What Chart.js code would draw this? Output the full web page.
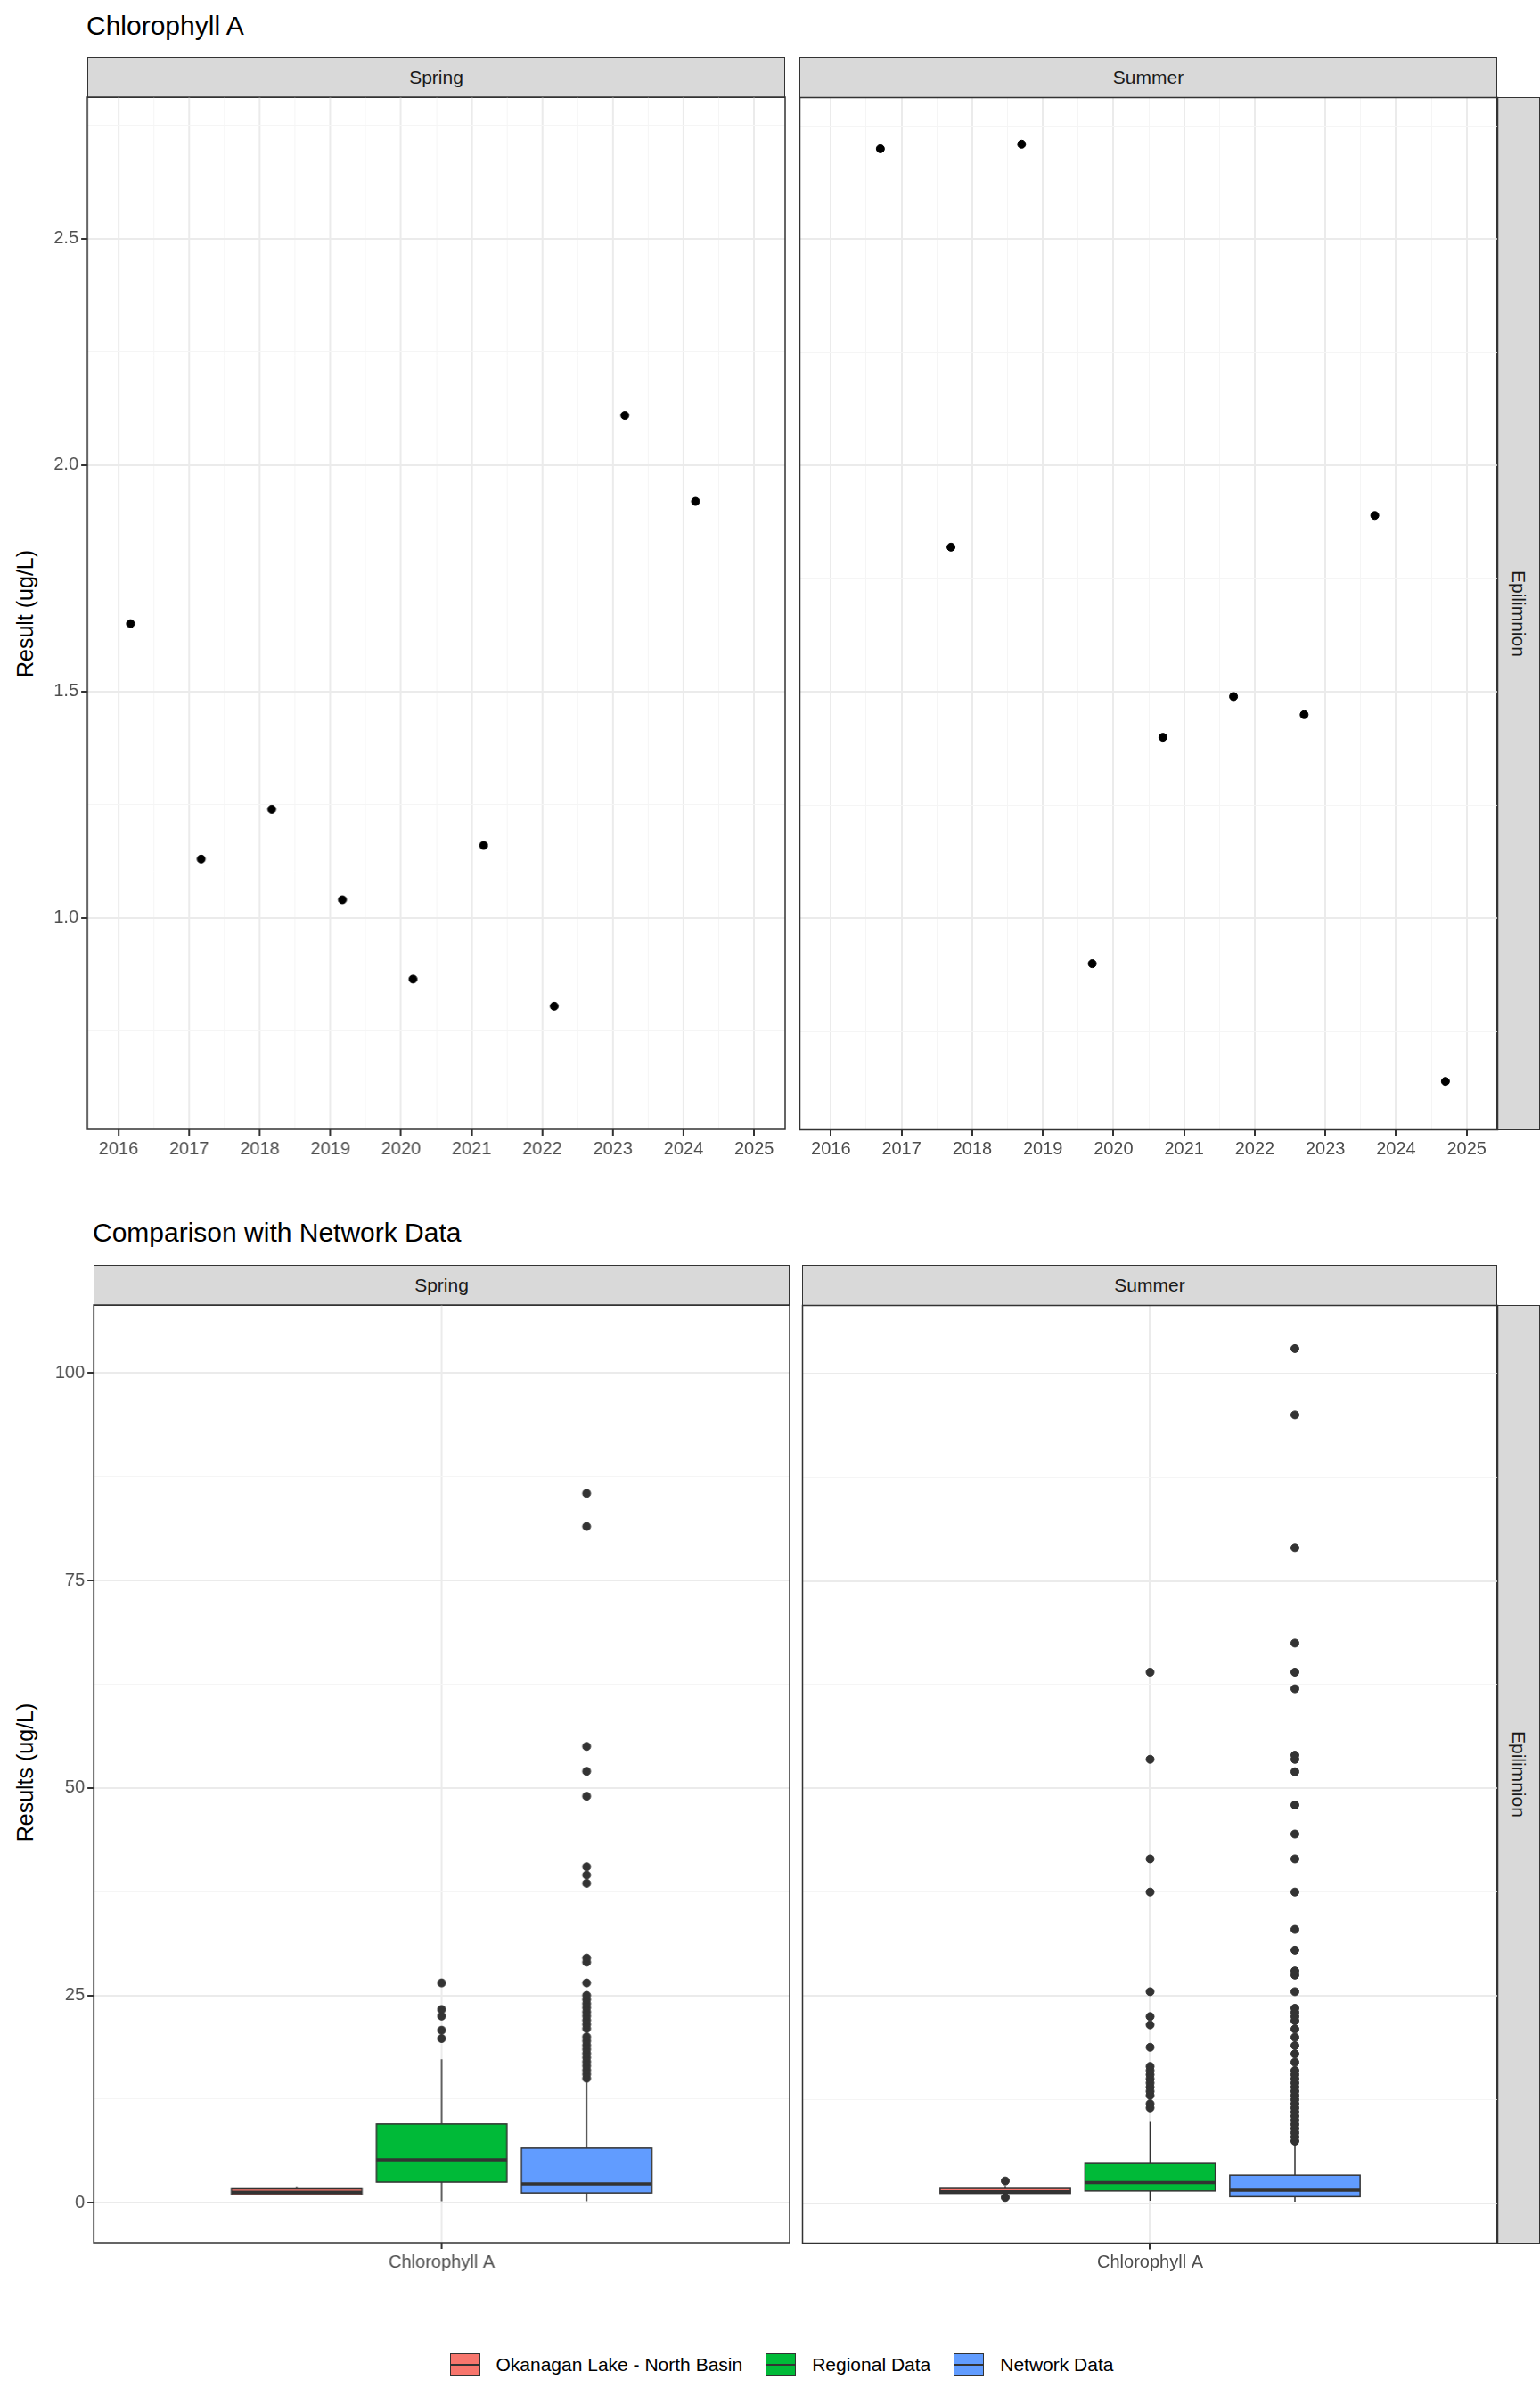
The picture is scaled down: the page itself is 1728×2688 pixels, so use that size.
<!DOCTYPE html>
<html><head><meta charset="utf-8">
<script src="https://cdn.jsdelivr.net/npm/chart.js@4"></script>
<style>
body{margin:0;width:1728px;height:2688px;background:#fff;font-family:"Liberation Sans",Arial,sans-serif;position:relative;overflow:hidden}
.abs{position:absolute}
.strip{position:absolute;background:#d9d9d9;border:1.5px solid #333;box-sizing:border-box;display:flex;align-items:center;justify-content:center;font-size:21px;color:#1a1a1a}
.vstrip{writing-mode:vertical-rl}
.title{position:absolute;font-size:30px;color:#000}
.ytitle{position:absolute;font-size:25px;color:#000;transform:rotate(-90deg);transform-origin:center;white-space:nowrap}
.leg{position:absolute;top:2640px;left:0;width:1728px;display:flex;justify-content:center;align-items:center;font-size:21px;color:#000}
.key{width:34px;height:26px;box-sizing:border-box;border:1.5px solid #333;position:relative;margin-right:18px;margin-left:26px}
.key:after{content:"";position:absolute;left:0;right:0;top:11px;height:2px;background:#333}
</style></head><body>
<div class="title" style="left:97px;top:12px">Chlorophyll A</div>
<div class="strip" style="left:98px;top:64px;width:783px;height:46px">Spring</div>
<div class="strip" style="left:897px;top:64px;width:783px;height:46px">Summer</div>
<div class="strip vstrip" style="left:1679px;top:109px;width:49px;height:1159px">Epilimnion</div>
<div class="ytitle" style="left:-52px;top:674px;width:160px;text-align:center">Result (ug/L)</div>

<div class="title" style="left:104px;top:1366px">Comparison with Network Data</div>
<div class="strip" style="left:105px;top:1419px;width:781px;height:46px">Spring</div>
<div class="strip" style="left:900px;top:1419px;width:780px;height:46px">Summer</div>
<div class="strip vstrip" style="left:1679px;top:1464px;width:49px;height:1053px">Epilimnion</div>
<div class="ytitle" style="left:-62px;top:1974px;width:180px;text-align:center">Results (ug/L)</div>

<div class="leg">
<div class="key" style="background:#F8766D"></div><span>Okanagan Lake - North Basin</span>
<div class="key" style="background:#00BA38"></div><span>Regional Data</span>
<div class="key" style="background:#619CFF"></div><span>Network Data</span>
</div>

<div class="abs" id="d1" style="left:0;top:109px;width:882px;height:1200px"><canvas id="c1"></canvas></div>
<div class="abs" id="d2" style="left:897px;top:109px;width:784px;height:1200px"><canvas id="c2"></canvas></div>
<div class="abs" id="d3" style="left:0;top:1464px;width:887px;height:1110px"><canvas id="c3"></canvas></div>
<div class="abs" id="d4" style="left:900px;top:1464px;width:781px;height:1110px"><canvas id="c4"></canvas></div>

<script>
// ---- data ----
const springYears = [2016.17,2017.17,2018.17,2019.17,2020.17,2021.17,2022.17,2023.17,2024.17];
const springChl   = [1.65,1.13,1.24,1.04,0.865,1.16,0.805,2.11,1.92];
const summerYears = [2016.7,2017.7,2018.7,2019.7,2020.7,2021.7,2022.7,2023.7,2024.7];
const summerChl   = [2.70,1.82,2.71,0.90,1.40,1.49,1.45,1.89,0.64];
const yearTicks = [2016,2017,2018,2019,2020,2021,2022,2023,2024,2025];
const resultTicks = [1.0,1.5,2.0,2.5];
const boxTicks = [0,25,50,75,100];
const groups = ["Okanagan Lake - North Basin","Regional Data","Network Data"];
const groupColors = ["#F8766D","#00BA38","#619CFF"];
// [whiskerLow, q1, median, q3, whiskerHigh]
const springStats = [[0.9,1.0,1.3,1.7,2.0],[0.2,2.5,5.2,9.5,17.3],[0.2,1.2,2.3,6.6,14.5]];
const springOut = [[],[19.8,20.8,22.5,23.3,26.5],
 [15,15.5,16,16.5,17,17.5,18,18.5,19,19.5,20,21,21.5,22,22.5,23,23.5,24,24.5,25,26.5,29,29.5,38.5,39.5,40.5,49,52,55,81.5,85.5]];
const summerStats = [[0.9,1.2,1.4,1.8,2.1],[0.3,1.5,2.5,4.8,9.8],[0.2,0.8,1.6,3.4,7.2]];
const summerOut = [[0.7,2.7],[11.5,12,13,13.5,14,14.5,15,15.5,16,16.5,18.8,21.5,22.5,25.5,37.5,41.5,53.5,64],
 [7.5,8,8.5,9,9.5,10,10.5,11,11.5,12,12.5,13,13.5,14,14.5,15,15.5,16,17,18,19,20,21,22,22.5,23,23.5,25.5,27.5,28,30.5,33,37.5,41.5,44.5,48,52,53.5,54,62,64,67.5,79,95,103]];
const boxCategory = "Chlorophyll A";

const tickFont = {family:"Liberation Sans", size:20};
const tickColor = "#4d4d4d";

const border = {id:'border', afterDraw(c){const a=c.chartArea,x=c.ctx;x.save();x.strokeStyle='#333';x.lineWidth=1.5;x.strokeRect(a.left,a.top,a.right-a.left,a.bottom-a.top);x.restore();}};

function gridScale(min,max,major,minorStep,showLabels,width,fmt){
  const isMaj=v=>major.some(m=>Math.abs(m-v)<1e-6);
  return {type:'linear',min,max,
    afterBuildTicks(s){const t=[];const start=Math.ceil(min/minorStep-1e-9)*minorStep;for(let v=start;v<=max+1e-9;v+=minorStep)t.push({value:+v.toFixed(4)});s.ticks=t;},
    afterFit(s){ if(width!==undefined) s.width=width; },
    grid:{color:ctx=>isMaj(ctx.tick.value)?'#ebebeb':'#f5f5f5',
          lineWidth:ctx=>isMaj(ctx.tick.value)?2:1,
          tickColor:ctx=>showLabels&&isMaj(ctx.tick.value)?'#333':'rgba(0,0,0,0)',
          tickLength:7, drawTicks:true},
    border:{display:false},
    ticks:{display:showLabels,autoSkip:false,maxRotation:0,font:tickFont,color:tickColor,padding:3,
      callback:v=>isMaj(v)?fmt(v):''}};
}

function align(chart,divId,L,T,W,H){
  const d=document.getElementById(divId);
  for(let i=0;i<3;i++){
    const a=chart.chartArea;
    const dl=parseFloat(d.style.left),dt=parseFloat(d.style.top),dw=parseFloat(d.style.width),dh=parseFloat(d.style.height);
    d.style.left=(dl+(L-(dl+a.left)))+'px';
    d.style.top=(dt+(T-(dt+a.top)))+'px';
    d.style.width=(dw+(W-(a.right-a.left)))+'px';
    d.style.height=(dh+(H-(a.bottom-a.top)))+'px';
    chart.resize();
  }
}

function scatterChart(id,xs,ys,left){
  return new Chart(document.getElementById(id),{type:'scatter',
    data:{datasets:[{data:xs.map((x,i)=>({x,y:ys[i]})),backgroundColor:'#000',borderColor:'#000',pointRadius:4.5}]},
    options:{responsive:true,maintainAspectRatio:false,animation:false,layout:{padding:0},
      plugins:{legend:{display:false},tooltip:{enabled:false}},
      scales:{x:gridScale(2015.56,2025.44,yearTicks,0.5,true,undefined,v=>String(v)),
              y:gridScale(0.533,2.813,resultTicks,0.25,left,left?98:0,v=>v.toFixed(1))}},
    plugins:[border]});
}
const ch1=scatterChart('c1',springYears,springChl,true);
const ch2=scatterChart('c2',summerYears,summerChl,false);

function boxChart(id,stats,outs,left){
  const offs=[-0.25,0,0.25], hw=0.1125;
  const pts=[];
  outs.forEach((o,g)=>o.forEach(v=>pts.push({x:1+offs[g],y:v})));
  const boxPlugin={id:'box',afterDatasetsDraw(c){
    const xs=c.scales.x, ys=c.scales.y, ctx=c.ctx; ctx.save();
    stats.forEach((s,g)=>{
      const cx=xs.getPixelForValue(1+offs[g]), l=xs.getPixelForValue(1+offs[g]-hw), r=xs.getPixelForValue(1+offs[g]+hw);
      const p=s.map(v=>ys.getPixelForValue(v));
      ctx.strokeStyle='#333';ctx.lineWidth=1.5;
      ctx.beginPath();ctx.moveTo(cx,p[0]);ctx.lineTo(cx,p[1]);ctx.moveTo(cx,p[3]);ctx.lineTo(cx,p[4]);ctx.stroke();
      ctx.fillStyle=groupColors[g];ctx.fillRect(l,p[3],r-l,p[1]-p[3]);ctx.strokeRect(l,p[3],r-l,p[1]-p[3]);
      ctx.lineWidth=3.5;ctx.beginPath();ctx.moveTo(l,p[2]);ctx.lineTo(r,p[2]);ctx.stroke();
    });
    ctx.restore();}};
  return new Chart(document.getElementById(id),{type:'scatter',
    data:{datasets:[{data:pts,backgroundColor:'#333',borderColor:'#333',pointRadius:4.5}]},
    options:{responsive:true,maintainAspectRatio:false,animation:false,layout:{padding:0},
      plugins:{legend:{display:false},tooltip:{enabled:false}},
      scales:{x:gridScale(0.4,1.6,[1],1,true,undefined,()=>boxCategory),
              y:gridScale(-4.8,108.2,boxTicks,12.5,left,left?105:0,v=>String(v))}},
    plugins:[boxPlugin,border]});
}
const ch3=boxChart('c3',springStats,springOut,true);
const ch4=boxChart('c4',summerStats,summerOut,false);

align(ch1,'d1',98,109,782,1158);
align(ch2,'d2',897,109,783,1158);
align(ch3,'d3',105,1464,780,1052);
align(ch4,'d4',900,1464,780,1052);
</script>
</body></html>
